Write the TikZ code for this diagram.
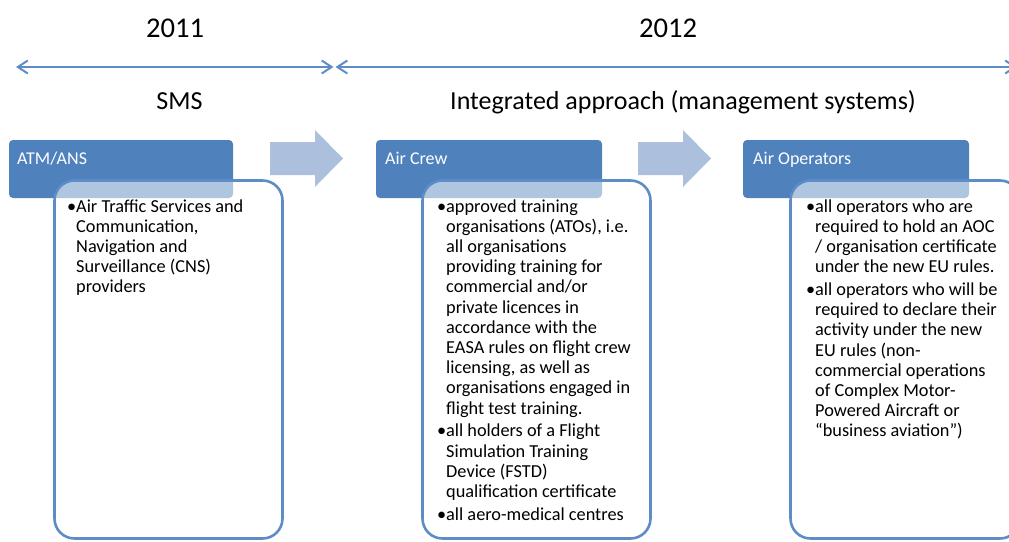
\documentclass[tikz,border=0pt]{standalone}
\usepackage{fontspec}
\setmainfont{Carlito}
\usetikzlibrary{arrows.meta}
\definecolor{accblue}{RGB}{79,129,189}
\definecolor{lineblue}{RGB}{94,140,198}
\definecolor{chevblue}{RGB}{172,192,222}
\tikzset{
  header/.style={fill=accblue, draw=none, rounded corners=4pt},
  bodybox/.style={draw=lineblue, line width=2.6pt, fill=white, fill opacity=0.55, draw opacity=1, rounded corners=20pt},
  chev/.style={fill=chevblue, draw=none},
  tline/.style={draw=lineblue, line width=2pt, {Straight Barb[length=10pt,width=13pt]}-{Straight Barb[length=10pt,width=13pt]}},
  htext/.style={anchor=base west, inner sep=0pt, text=white, font=\fontsize{18}{21}\selectfont},
  btext/.style={anchor=base west, inner sep=0pt, text=black, font=\fontsize{18.3}{20.2}\selectfont},
  big/.style={anchor=base, inner sep=0pt, text=black}
}
\begin{document}
\begin{tikzpicture}[x=1pt,y=-1pt]
\useasboundingbox (0,0) rectangle (1009,541);
\clip (0,0) rectangle (1009,541);
% timeline
\node[big, font=\fontsize{28.6}{32}\selectfont] (y1) at (175,37) {2011};
\node[big, font=\fontsize{28.6}{32}\selectfont] (y2) at (668,37) {2012};
\coordinate (t1) at (16,67);
\coordinate (t2) at (333.5,67);
\coordinate (t3) at (335.5,67);
\coordinate (t4) at (1017,67);
\draw[tline] (t1) -- (t2);
\draw[tline] (t3) -- (t4);
\node[big, font=\fontsize{26}{30}\selectfont] (p1) at (179.5,109) {SMS};
\node[big, font=\fontsize{26}{30}\selectfont] (p2) at (683,109) {Integrated approach (management systems)};
% chevrons
\fill[chev] (270,142) -- (315,142) -- (315,130) -- (343,158.5) -- (315,187) -- (315,175) -- (270,175) -- cycle;
\fill[chev] (638,142) -- (683,142) -- (683,130) -- (711,158.5) -- (683,187) -- (683,175) -- (638,175) -- cycle;
% headers
\path[header] (9,140) rectangle (233,198);
\path[header] (376,140) rectangle (602,198);
\path[header] (743,140) rectangle (969,198);
\node[htext] (h1) at (17,164) {ATM/ANS};
\node[htext] (h2) at (385,164) {Air Crew};
\node[htext] (h3) at (753,164) {Air Operators};
% bodies
\path[bodybox] (54.5,180.5) rectangle (282.5,538.5);
\path[bodybox] (422.5,180.5) rectangle (650.5,538.5);
\path[bodybox] (790.5,180.5) rectangle (1020,538.5);
\node[btext] (c1) at (76,212) {\begin{tabular}[t]{@{}l@{}}
\llap{•}Air Traffic Services and\\
Communication,\\
Navigation and\\
Surveillance (CNS)\\
providers
\end{tabular}};
\node[btext] (c2) at (446,212) {\begin{tabular}[t]{@{}l@{}}
\llap{•}approved training\\
organisations (ATOs), i.e.\\
all organisations\\
providing training for\\
commercial and/or\\
private licences in\\
accordance with the\\
EASA rules on flight crew\\
licensing, as well as\\
organisations engaged in\\
flight test training.\\[2.6pt]
\llap{•}all holders of a Flight\\
Simulation Training\\
Device (FSTD)\\
qualification certificate\\[2.6pt]
\llap{•}all aero-medical centres
\end{tabular}};
\node[btext] (c3) at (815,212) {\begin{tabular}[t]{@{}l@{}}
\llap{•}all operators who are\\
required to hold an AOC\\
/ organisation certificate\\
under the new EU rules.\\[2.6pt]
\llap{•}all operators who will be\\
required to declare their\\
activity under the new\\
EU rules (non-\\
commercial operations\\
of Complex Motor-\\
Powered Aircraft or\\
“business aviation”)
\end{tabular}};
\end{tikzpicture}
\end{document}
